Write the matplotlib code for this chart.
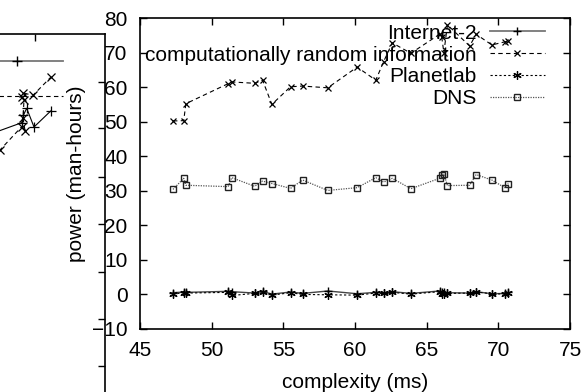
import matplotlib
matplotlib.use('Agg')
import matplotlib.pyplot as plt

plt.rcParams['font.family'] = ['Liberation Sans', 'DejaVu Sans']
plt.rcParams['font.size'] = 15

# values
complexity = [47.3, 48.05, 48.2, 51.15, 51.4, 53.0, 53.55, 54.2, 55.5, 56.35, 58.1, 60.15, 61.45,
              62.0, 62.6, 63.9, 65.9, 66.05, 66.2, 66.45, 68.0, 68.45, 69.55, 70.45, 70.7]
internet2 = [0.5, 0.7, 0.6, 0.9, 0.8, 0.4, 0.9, 0.1, 0.7, 0.3, 1.0, 0.2, 0.6,
             0.5, 0.8, 0.3, 1.0, 0.7, 0.6, 0.5, 0.4, 0.8, 0.2, 0.3, 0.6]
cri = [50.2, 50.3, 55.2, 61.0, 61.5, 61.1, 62.0, 55.0, 60.1, 60.3, 59.8, 65.8, 62.0,
       67.4, 72.8, 69.8, 75.3, 74.5, 70.0, 78.0, 71.9, 75.3, 72.2, 73.1, 73.4]
planetlab = [0.1, 0.5, 0.4, 0.6, -0.3, 0.3, 0.7, -0.2, 0.5, 0.0, -0.1, -0.2, 0.4,
             0.3, 0.6, 0.1, 0.8, 0.2, 0.1, 0.3, 0.4, 0.7, 0.2, 0.1, 0.5]
dns = [30.4, 33.6, 31.6, 31.2, 33.8, 31.3, 32.8, 32.1, 30.7, 33.1, 30.1, 30.9, 33.8,
       32.5, 33.6, 30.6, 33.6, 34.6, 34.9, 31.5, 31.6, 34.7, 33.1, 30.9, 32.1]

labels = ['Internet-2', 'computationally random information', 'Planetlab', 'DNS']
xticks = [45, 50, 55, 60, 65, 70, 75]
yticks = [-10, 0, 10, 20, 30, 40, 50, 60, 70, 80]

# neighbouring (cropped) figure on the left, in its own pixel-like units
left_solid_x = [-15, 21.7, 23.5, 26.7, 34.0, 50.7]
left_solid_y = [136, 122.7, 115, 108.3, 127, 111]
left_dash_x = [-5, 0, 21.7, 25, 23, 24, 21.7, 23.3, 33.3, 50.7]
left_dash_y = [154, 150, 126.7, 130.7, 118, 100, 96.7, 93.3, 95, 77.3]
left_key_x = [-28, 63]
left_key1_y = [61, 61]
left_key2_y = [96, 96]
left_yticks = [82, 128, 177, 224, 272, 319, 366]
left_xticks = [35]

W, H = 587, 392
fig = plt.figure(figsize=(W / 100, H / 100), dpi=100)


def px_axes(left, top, right, bottom):
    return fig.add_axes([left / W, 1 - bottom / H, (right - left) / W, (bottom - top) / H])


# left partial plot
axl = px_axes(-200, 34, 105, 460)
axl.set_xlim(-200, 105)
axl.set_ylim(460, 34)
axl.plot(left_key_x, left_key1_y, color='#777777', lw=1.3)
axl.plot([17.5], [61], marker='+', color='black', ms=7, mew=1)
axl.plot(left_key_x, left_key2_y, color='black', lw=0.8, dashes=(4, 3))
axl.plot(left_solid_x, left_solid_y, color='black', lw=0.8, marker='+', ms=7, mew=0.9)
axl.plot(left_dash_x, left_dash_y, color='black', lw=0.8, dashes=(4, 3), marker='x', ms=5.5, mew=0.9)
axl.spines['left'].set_visible(False)
axl.spines['bottom'].set_visible(False)
for s in ['top', 'right']:
    axl.spines[s].set_linewidth(1.2)
axl.yaxis.tick_right()
axl.xaxis.tick_top()
axl.set_yticks(left_yticks)
axl.set_xticks(left_xticks)
axl.tick_params(direction='in', length=5, width=1, labelright=False, labeltop=False)

# main plot
ax = px_axes(140, 18, 570, 329)
ax.plot(complexity, internet2, color='#444444', lw=1.0, marker='+', ms=6, mew=1,
        mec='black', label=labels[0])
ax.plot(complexity, cri, color='black', lw=0.8, dashes=(4, 3), marker='x', ms=5,
        mew=0.9, label=labels[1])
ax.plot(complexity, planetlab, color='black', lw=0.8, dashes=(2, 2), marker=(6, 2, 0), ms=6,
        mew=0.9, label=labels[2])
ax.plot(complexity, dns, color='#555555', lw=0.9, dashes=(1, 1), marker='s', ms=5,
        mfc='none', mec='#222222', mew=1, label=labels[3])

ax.set_xlim(45, 75)
ax.set_ylim(-10, 80)
ax.set_xticks(xticks)
ax.set_yticks(yticks)
ax.tick_params(direction='in', length=5, width=1, top=True, right=True, pad=9)
for s in ax.spines.values():
    s.set_linewidth(1.2)
ax.set_xlabel('complexity (ms)', labelpad=9)
ax.set_ylabel('power (man-hours)', labelpad=4)

leg = ax.legend(loc='upper right', bbox_to_anchor=(0.942, 0.982), frameon=False,
                markerfirst=False, numpoints=1, handlelength=2.65, handletextpad=0.62,
                labelspacing=0.14, borderpad=0, borderaxespad=0)
leg._legend_handle_box.get_children()[0].align = 'right'
leg.get_lines()[0].set_color('#777777')
leg.get_lines()[0].set_linewidth(1.3)

fig.savefig('out.png', dpi=100)
